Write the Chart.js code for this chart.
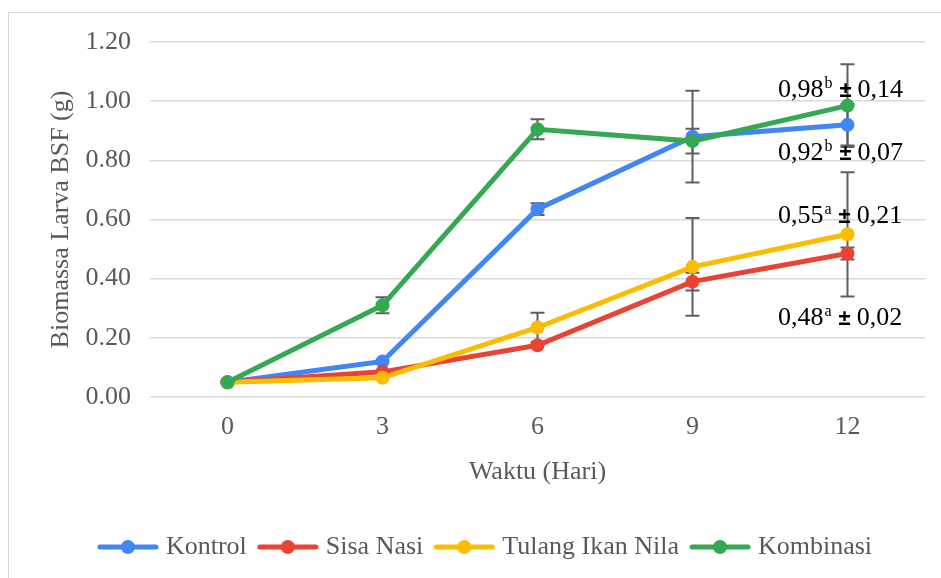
<!DOCTYPE html>
<html>
<head>
<meta charset="utf-8">
<script src="https://cdn.jsdelivr.net/npm/chart.js@4"></script>
<style>
  body { margin: 0; background: #fff; overflow: hidden; }
  #wrap { position: relative; width: 941px; height: 578px; }
  #frame { position: absolute; left: 8px; top: 12px; width: 1000px; height: 700px; border: 1px solid #d9d9d9; }
  canvas { position: absolute; left: 0; top: 0; }
</style>
</head>
<body>
<div id="wrap">
  <div id="frame"></div>
  <canvas id="biomassaChart" width="941" height="578"></canvas>
</div>
<script>
// Data: biomassa larva BSF (g) per hari
const hari = ['0', '3', '6', '9', '12'];
const kontrol = [0.05, 0.12, 0.635, 0.88, 0.92];
const sisaNasi = [0.05, 0.085, 0.175, 0.39, 0.485];
const tulangIkan = [0.05, 0.065, 0.235, 0.44, 0.55];
const kombinasi = [0.05, 0.31, 0.905, 0.865, 0.985];

// Standar deviasi (error bar)
const sdKontrol = [0, 0, 0.02, 0.155, 0.07];
const sdSisaNasi = [0, 0, 0, 0.03, 0.02];
const sdTulangIkan = [0, 0, 0.05, 0.165, 0.21];
const sdKombinasi = [0, 0.027, 0.034, 0.042, 0.14];

// Label hari ke-12
const labelRerata = ['0,98', '0,92', '0,55', '0,48'];
const labelHuruf = ['b', 'b', 'a', 'a'];
const labelSd = ['0,14', '0,07', '0,21', '0,02'];

const serif = "'Liberation Serif', 'Times New Roman', serif";
const abu = '#595959';

function ikonLegend(warna) {
    const c = document.createElement('canvas');
    c.width = 62;
    c.height = 18;
    const ctx = c.getContext('2d');
    ctx.strokeStyle = warna;
    ctx.lineWidth = 5;
    ctx.lineCap = 'round';
    ctx.beginPath();
    ctx.moveTo(3, 9);
    ctx.lineTo(59, 9);
    ctx.stroke();
    ctx.fillStyle = warna;
    ctx.beginPath();
    ctx.arc(31, 9, 7, 0, Math.PI * 2);
    ctx.fill();
    return c;
}

const errorBarPlugin = {
    id: 'errorBars',
    beforeDatasetsDraw(chart) {
        const ctx = chart.ctx;
        const x = chart.scales.x;
        const y = chart.scales.y;
        ctx.save();
        ctx.strokeStyle = '#5f5f5f';
        ctx.lineWidth = 2;
        chart.data.datasets.forEach((ds) => {
            ds.data.forEach((v, i) => {
                const e = ds.sd[i];
                if (!e) return;
                const px = x.getPixelForValue(i);
                const top = y.getPixelForValue(v + e);
                const bot = y.getPixelForValue(v - e);
                ctx.beginPath();
                ctx.moveTo(px, top);
                ctx.lineTo(px, bot);
                ctx.moveTo(px - 7, top);
                ctx.lineTo(px + 7, top);
                ctx.moveTo(px - 7, bot);
                ctx.lineTo(px + 7, bot);
                ctx.stroke();
            });
        });
        ctx.restore();
    }
};

const labelPlugin = {
    id: 'labelHari12',
    afterDatasetsDraw(chart) {
        const ctx = chart.ctx;
        const baseY = [97, 160, 223, 325];
        ctx.save();
        ctx.fillStyle = '#000';
        ctx.textBaseline = 'alphabetic';
        ctx.textAlign = 'left';
        labelRerata.forEach((t, i) => {
            let x = 778;
            const by = baseY[i];
            ctx.font = '26px ' + serif;
            ctx.fillText(t, x, by);
            x += ctx.measureText(t).width + 1;
            ctx.font = '16px ' + serif;
            ctx.fillText(labelHuruf[i], x, by - 9);
            x += ctx.measureText(labelHuruf[i]).width + 7;
            ctx.font = "bold 22px 'Liberation Sans', Arial, sans-serif";
            ctx.fillText('±', x, by);
            x += ctx.measureText('±').width + 6;
            ctx.font = '26px ' + serif;
            ctx.fillText(labelSd[i], x, by);
        });
        ctx.restore();
    }
};

function seri(label, data, sd, warna, urutan) {
    return {
        label: label,
        data: data,
        sd: sd,
        borderColor: warna,
        backgroundColor: warna,
        borderWidth: 5,
        pointRadius: 7,
        pointBorderWidth: 0,
        pointBackgroundColor: warna,
        tension: 0,
        order: urutan,
        ikon: ikonLegend(warna)
    };
}

const biomassaChart = new Chart(document.getElementById('biomassaChart'), {
    type: 'line',
    data: {
        labels: hari,
        datasets: [
            seri('Kontrol', kontrol, sdKontrol, '#4285f4', 4),
            seri('Sisa Nasi', sisaNasi, sdSisaNasi, '#ea4335', 3),
            seri('Tulang Ikan Nila', tulangIkan, sdTulangIkan, '#fbbc04', 2),
            seri('Kombinasi', kombinasi, sdKombinasi, '#34a853', 1)
        ]
    },
    options: {
        responsive: false,
        animation: false,
        devicePixelRatio: 1,
        layout: {
            padding: { top: 42, right: 16, bottom: 8, left: 50 }
        },
        plugins: {
            legend: {
                position: 'bottom',
                labels: {
                    usePointStyle: true,
                    pointStyleWidth: 50,
                    padding: 16,
                    color: abu,
                    font: { family: serif, size: 26 },
                    sort: (a, b) => a.datasetIndex - b.datasetIndex,
                    generateLabels(chart) {
                        const items = Chart.defaults.plugins.legend.labels.generateLabels(chart);
                        items.forEach((it) => {
                            it.pointStyle = chart.data.datasets[it.datasetIndex].ikon;
                        });
                        return items;
                    }
                }
            },
            tooltip: { enabled: false }
        },
        scales: {
            x: {
                offset: true,
                grid: { display: false },
                border: { display: false },
                ticks: {
                    color: abu,
                    padding: 7,
                    font: { family: serif, size: 26 }
                },
                title: {
                    display: true,
                    text: 'Waktu (Hari)',
                    color: abu,
                    font: { family: serif, size: 26 },
                    padding: { top: 0, bottom: 30 }
                },
                afterFit(s) { s.height = 121; }
            },
            y: {
                min: 0,
                max: 1.2,
                grid: { color: '#d9d9d9', lineWidth: 1.5, drawTicks: false },
                border: { display: false },
                ticks: {
                    stepSize: 0.2,
                    color: abu,
                    padding: 19,
                    font: { family: serif, size: 26 },
                    callback: (v) => v.toFixed(2)
                },
                title: {
                    display: true,
                    text: 'Biomassa Larva BSF (g)',
                    color: abu,
                    font: { family: serif, size: 26 },
                    padding: { top: -4, bottom: 0 }
                },
                afterFit(s) { s.width = 100; }
            }
        }
    },
    plugins: [errorBarPlugin, labelPlugin]
});
</script>
</body>
</html>
